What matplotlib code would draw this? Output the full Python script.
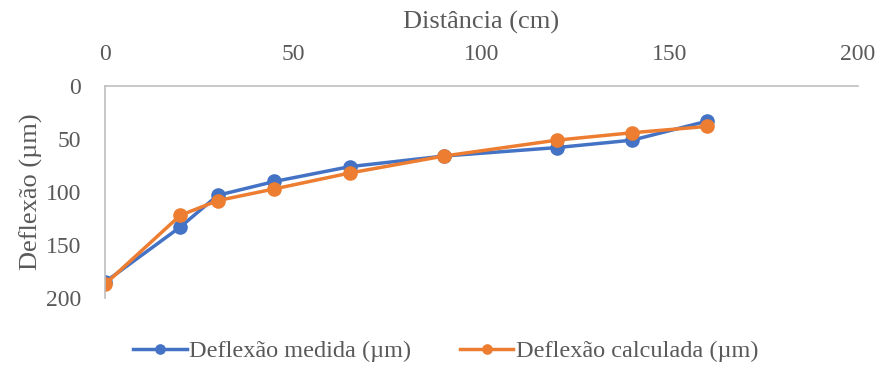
import matplotlib.pyplot as plt

distancia = [0, 20, 30, 45, 65, 90, 120, 140, 160]
deflexao_medida = [185, 133, 103, 90, 76, 66, 58, 51, 33]
deflexao_calculada = [187, 122, 108, 97, 82, 66, 51, 44, 38]

plt.rcParams['font.family'] = ['Liberation Serif', 'DejaVu Serif']
cinza = '#595959'

fig = plt.figure(figsize=(8.81, 3.68), dpi=100)
ax = fig.add_axes([0.119, 0.19, 0.855, 0.576])

ax.plot(distancia, deflexao_medida, color='#4472C4', linewidth=2.5, marker='o',
        markersize=9.5, label='Deflexão medida (µm)')
ax.plot(distancia, deflexao_calculada, color='#ED7D31', linewidth=2.5, marker='o',
        markersize=9.5, label='Deflexão calculada (µm)')

ax.set_xlim(0, 200)
ax.set_ylim(200, 0)
ax.set_xticks([0, 50, 100, 150, 200])
ax.set_yticks([0, 50, 100, 150, 200])
ax.xaxis.tick_top()
ax.xaxis.set_label_position('top')
ax.tick_params(length=0, labelsize=17, colors=cinza)
ax.tick_params(axis='x', pad=15)
ax.tick_params(axis='y', pad=17)

for lado in ['right', 'bottom']:
    ax.spines[lado].set_visible(False)
for lado in ['top', 'left']:
    ax.spines[lado].set_color('#bfbfbf')
    ax.spines[lado].set_linewidth(1.2)

ax.set_xlabel('Distância (cm)', fontsize=19, color=cinza, labelpad=11)
ax.set_ylabel('Deflexão (µm)', fontsize=19, color=cinza, labelpad=2)

leg = fig.legend(loc='center', bbox_to_anchor=(0.506, 0.045), ncol=2, frameon=False,
                 fontsize=17.5, handlelength=2.2, handletextpad=0.1, columnspacing=2.0,
                 markerscale=0.7)
for t in leg.get_texts():
    t.set_color(cinza)

fig.savefig('out.png', dpi=100)
